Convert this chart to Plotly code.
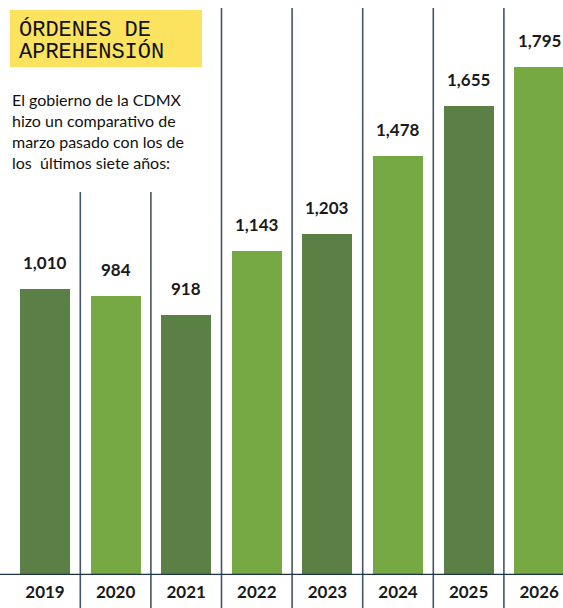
import plotly.graph_objects as go

years = ["2019", "2020", "2021", "2022", "2023", "2024", "2025", "2026"]
values = [1010, 984, 918, 1143, 1203, 1478, 1655, 1795]
labels = ["1,010", "984", "918", "1,143", "1,203", "1,478", "1,655", "1,795"]
title_lines = ["ÓRDENES DE", "APREHENSIÓN"]
body_lines = ["El gobierno de la CDMX", "hizo un comparativo de",
              "marzo pasado con los de", "los  últimos siete años:"]

DARK = "#5b8045"
LIGHT = "#76a843"
colors = [DARK if i % 2 == 0 else LIGHT for i in range(len(years))]
xs = list(range(len(years)))

W, H = 563, 608
B = 33
PH = H - B
step = 70.6
x0 = -45 / step
x1 = (W - 45) / step

fig = go.Figure()
fig.add_trace(go.Bar(x=xs, y=values, marker=dict(color=colors, line=dict(width=0)),
                     width=0.71, hoverinfo="skip"))

shapes = []
# separators
for i in range(len(years) - 1):
    xm = i + 0.5
    ytop = (PH - 192) / PH if i < 2 else (PH - 8) / PH
    shapes.append(dict(type="line", xref="x", yref="paper", x0=xm, x1=xm,
                       y0=-B / PH, y1=ytop, line=dict(color="#465566", width=1.6),
                       layer="above"))
# baseline
shapes.append(dict(type="line", xref="paper", yref="y", x0=0, x1=1, y0=0, y1=0,
                   line=dict(color="#1f3350", width=2.5), layer="above"))
# yellow title box
shapes.append(dict(type="rect", xref="paper", yref="paper",
                   x0=10 / W, x1=202 / W, y0=(PH - 67) / PH, y1=(PH - 10) / PH,
                   fillcolor="#fbe35f", line=dict(width=0), layer="below"))
fig.update_layout(shapes=shapes)

ann = []
for x, v, t in zip(xs, values, labels):
    ann.append(dict(x=x, y=v, text=t, showarrow=False, yanchor="bottom", yshift=14,
                    font=dict(family="Lato", size=17, color="#1a1a1a", weight="bold")))
for i, t in enumerate(title_lines):
    ann.append(dict(xref="paper", yref="paper", x=17 / W, y=(PH - (30 + 22 * i)) / PH,
                    xanchor="left", yanchor="middle", text=t, showarrow=False,
                    font=dict(family="Liberation Mono", size=22, color="#111111")))
for i, t in enumerate(body_lines):
    ann.append(dict(xref="paper", yref="paper", x=10 / W, y=(PH - (99 + 21.3 * i)) / PH,
                    xanchor="left", yanchor="middle", text=t, showarrow=False,
                    font=dict(family="Lato", size=16, color="#111111")))
fig.update_layout(annotations=ann)

fig.update_layout(
    width=W, height=H,
    margin=dict(l=0, r=0, t=0, b=B, pad=0),
    paper_bgcolor="white", plot_bgcolor="white",
    showlegend=False, bargap=0,
    xaxis=dict(range=[x0, x1], tickvals=xs, ticktext=years, showgrid=False,
               zeroline=False, showline=False, ticks="", automargin=False,
               ticklabelstandoff=5,
               tickfont=dict(family="Lato", size=17, color="#1a1a1a", weight="bold")),
    yaxis=dict(range=[0, 2030], visible=False, showgrid=False, zeroline=False,
               automargin=False),
)

fig.write_html("out.html", config={"displayModeBar": False},
               post_script="document.body.style.margin='0';document.body.style.overflow='hidden';")
